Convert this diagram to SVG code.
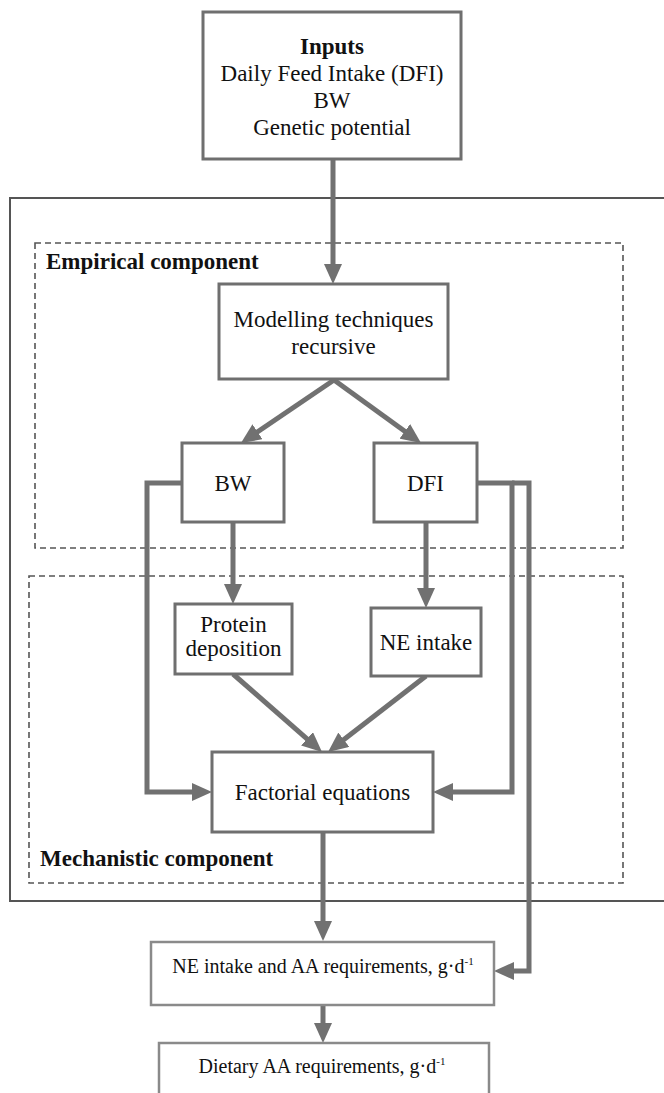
<svg xmlns="http://www.w3.org/2000/svg" width="664" height="1093" viewBox="0 0 664 1093">
<style>
text{font-family:"Liberation Serif","Times New Roman",serif;fill:#111;}
.t{font-size:23px;text-anchor:middle;}
.b{font-weight:bold;}
.s{font-size:20px;text-anchor:middle;}
.box{fill:#fff;stroke:#6f6f6f;stroke-width:3;}
.lbox{fill:#fff;stroke:#8a8a8a;stroke-width:2.5;}
.dash{fill:none;stroke:#555;stroke-width:1.6;stroke-dasharray:6 4;}
.c{fill:none;stroke:#717171;stroke-width:5;stroke-linejoin:miter;marker-end:url(#ah);}
</style>
<defs>
<marker id="ah" markerUnits="userSpaceOnUse" markerWidth="20" markerHeight="18" viewBox="0 0 20 18" refX="8" refY="9" orient="auto">
<path d="M0,0 L20,9 L0,18 z" fill="#717171"/>
</marker>
</defs>
<rect width="664" height="1093" fill="#fff"/>
<g id="frame">
<rect x="10" y="198" width="700" height="703" fill="none" stroke="#555" stroke-width="2"/>
</g>
<g id="empirical">
<rect class="dash" x="35" y="243" width="588" height="305"/>
<text x="46" y="269" class="b" font-size="23">Empirical component</text>
</g>
<g id="mechanistic">
<rect class="dash" x="29" y="576" width="594" height="307"/>
<text x="40" y="866" class="b" font-size="23">Mechanistic component</text>
</g>
<g id="connectors">
<path class="c" d="M333,159 L333,272"/>
<path class="c" d="M334,380 L250.9,436.3"/>
<path class="c" d="M334,380 L411.3,436"/>
<path class="c" d="M233,522 L233,592"/>
<path class="c" d="M426,522 L426,596"/>
<path class="c" d="M233,674 L313,744.1"/>
<path class="c" d="M426,676 L337.5,744.6"/>
<path class="c" d="M182,483 L147,483 L147,792 L200,792"/>
<path class="c" d="M476,483 L512,483 L512,792 L445,792"/>
<path class="c" d="M512,483 L529,483 L529,971 L506,971"/>
<path class="c" d="M323,832 L323,929"/>
<path class="c" d="M323,1005 L323,1031"/>
</g>
<g id="inputs">
<rect class="box" x="203" y="12" width="258" height="147"/>
<text x="332" y="54" class="t b">Inputs</text>
<text x="332" y="81" class="t">Daily Feed Intake (DFI)</text>
<text x="332" y="108" class="t">BW</text>
<text x="332" y="135" class="t">Genetic potential</text>
</g>
<g id="modelling">
<rect class="box" x="219" y="284" width="229" height="95"/>
<text x="333.5" y="327" class="t">Modelling techniques</text>
<text x="333.5" y="354" class="t">recursive</text>
</g>
<g id="bw">
<rect class="box" x="182" y="443" width="102" height="79"/>
<text x="233" y="491" class="t">BW</text>
</g>
<g id="dfi">
<rect class="box" x="374" y="443" width="103" height="79"/>
<text x="425.5" y="491" class="t">DFI</text>
</g>
<g id="protein">
<rect class="box" x="175" y="604" width="117" height="70"/>
<text x="233.5" y="632" class="t">Protein</text>
<text x="233.5" y="656" class="t">deposition</text>
</g>
<g id="neintake">
<rect class="box" x="371" y="608" width="110" height="68"/>
<text x="426" y="650" class="t">NE intake</text>
</g>
<g id="factorial">
<rect class="box" x="212" y="752" width="221" height="80"/>
<text x="322.5" y="800" class="t">Factorial equations</text>
</g>
<g id="requirements">
<rect class="lbox" x="151" y="942" width="343" height="63"/>
<text x="323" y="973" class="s">NE intake and AA requirements, g·d<tspan font-size="11" dy="-8">-1</tspan></text>
</g>
<g id="dietary">
<rect class="lbox" x="159" y="1043" width="330" height="70"/>
<text x="322" y="1073" class="s">Dietary AA requirements, g·d<tspan font-size="11" dy="-8">-1</tspan></text>
</g>
</svg>
